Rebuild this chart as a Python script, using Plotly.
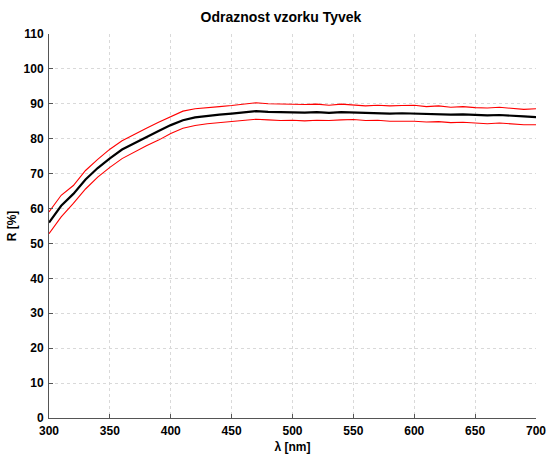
import plotly.graph_objects as go

wavelength = list(range(300, 701, 10))
r_mean = [56.0, 60.8, 64.2, 68.3, 71.6, 74.4, 76.9, 78.7, 80.6, 82.2, 83.9, 85.3, 86.1, 86.6, 86.9,
          87.2, 87.5, 87.9, 87.7, 87.6, 87.7, 87.5, 87.6, 87.4, 87.6, 87.5, 87.3, 87.4, 87.2, 87.3,
          87.2, 87.0, 87.1, 86.9, 87.0, 86.8, 86.7, 86.8, 86.5, 86.4, 86.2]
r_upper = [59.0, 63.8, 66.6, 70.9, 74.1, 77.0, 79.4, 81.3, 83.0, 84.7, 86.4, 87.9, 88.6, 89.0, 89.2,
           89.5, 89.8, 90.3, 90.0, 89.9, 90.0, 89.8, 89.9, 89.6, 89.9, 89.7, 89.4, 89.6, 89.4, 89.5,
           89.6, 89.2, 89.4, 89.0, 89.2, 88.9, 88.8, 89.0, 88.6, 88.4, 88.6]
r_lower = [52.8, 57.6, 61.5, 65.6, 69.0, 71.8, 74.3, 76.2, 78.0, 79.6, 81.5, 83.0, 83.8, 84.3, 84.6,
           84.9, 85.2, 85.6, 85.4, 85.2, 85.3, 85.1, 85.3, 85.2, 85.4, 85.5, 85.2, 85.3, 85.0, 85.1,
           85.0, 84.8, 84.9, 84.6, 84.7, 84.5, 84.3, 84.5, 84.2, 84.0, 84.0]

x_ticks = list(range(300, 701, 50))
y_ticks = list(range(0, 111, 10))

font_family = "Arial, Liberation Sans, sans-serif"

fig = go.Figure()
fig.add_trace(go.Scatter(x=wavelength, y=r_upper, mode="lines",
                         line=dict(color="#ff0000", width=1.1), showlegend=False))
fig.add_trace(go.Scatter(x=wavelength, y=r_lower, mode="lines",
                         line=dict(color="#ff0000", width=1.1), showlegend=False))
fig.add_trace(go.Scatter(x=wavelength, y=r_mean, mode="lines",
                         line=dict(color="#000000", width=2.2), showlegend=False))

axis_common = dict(
    showgrid=True, gridcolor="#d9d9d9", griddash="dot", gridwidth=1,
    showline=True, linecolor="#555555", linewidth=1,
    ticks="inside", ticklen=4, tickcolor="#555555",
    tickfont=dict(family=font_family, size=12, color="#000000", weight="bold"),
    zeroline=False, automargin=False,
)

W, H = 547, 454

fig.update_layout(
    width=W, height=H,
    margin=dict(l=49, r=11, t=34, b=36),
    paper_bgcolor="white", plot_bgcolor="white",
    title=dict(text="Odraznost vzorku Tyvek", xref="container", x=281 / W, xanchor="center",
               yref="container", y=1 - 17 / H, yanchor="middle",
               font=dict(family=font_family, size=14, color="#000000", weight="bold")),
    xaxis=dict(range=[300, 700], tickvals=x_ticks, ticklabelstandoff=2,
               title=dict(text="λ [nm]", standoff=6,
                          font=dict(family=font_family, size=12, color="#000000", weight="bold")),
               **axis_common),
    yaxis=dict(range=[0, 110], tickvals=y_ticks, ticklabelstandoff=2,
               title=dict(text="R [%]", standoff=4,
                          font=dict(family=font_family, size=12, color="#000000", weight="bold")),
               **axis_common),
)

fig.write_html("out.html", config={"displayModeBar": False},
               post_script="document.body.style.margin='0px';document.body.style.overflow='hidden';")
